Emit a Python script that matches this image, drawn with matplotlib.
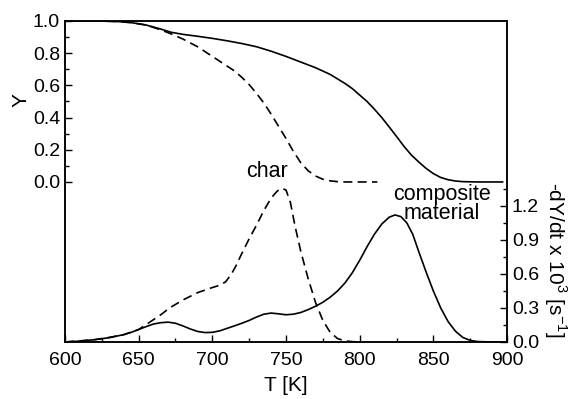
"""Mass loss Y and rate -dY/dt for char and composite material."""

import matplotlib

matplotlib.use("Agg")
import matplotlib.pyplot as plt
from matplotlib.ticker import FixedLocator

plt.rcParams["font.family"] = ["Liberation Sans", "DejaVu Sans"]
plt.rcParams["mathtext.fontset"] = "custom"
plt.rcParams["mathtext.rm"] = "Liberation Sans"

# Y, composite material (solid)
T_Y_COMP = [600, 620, 635, 645, 655, 665, 672, 680, 690, 700, 710, 720, 730,
            740, 750, 760, 770, 780, 790, 795, 800, 805, 810, 815, 820, 825,
            830, 835, 840, 845, 850, 855, 860, 865, 870, 880, 897]
Y_COMP = [1.0, 1.0, 0.997, 0.99, 0.975, 0.95, 0.93, 0.917, 0.905, 0.892, 0.877,
          0.86, 0.84, 0.812, 0.78, 0.745, 0.71, 0.668, 0.612, 0.58, 0.54, 0.5,
          0.452, 0.4, 0.342, 0.283, 0.222, 0.168, 0.125, 0.085, 0.052, 0.028,
          0.014, 0.006, 0.002, 0.0, 0.0]

# Y, char (dashed)
T_Y_CHAR = [600, 620, 635, 645, 655, 665, 672, 680, 690, 700, 710, 715, 720,
            725, 730, 735, 740, 745, 750, 755, 760, 765, 770, 775, 780, 785,
            790, 812]
Y_CHAR = [1.0, 1.0, 0.997, 0.99, 0.975, 0.945, 0.92, 0.888, 0.84, 0.78, 0.72,
          0.69, 0.65, 0.605, 0.55, 0.49, 0.42, 0.345, 0.27, 0.19, 0.12, 0.07,
          0.037, 0.017, 0.007, 0.002, 0.0, 0.0]

# -dY/dt x 10^3, composite material (solid)
T_R_COMP = [600, 610, 620, 630, 640, 645, 650, 655, 660, 665, 670, 675, 680,
            685, 690, 695, 700, 705, 710, 715, 720, 725, 730, 735, 740, 745,
            750, 755, 760, 765, 770, 775, 780, 785, 790, 795, 800, 805, 810,
            815, 820, 824, 828, 832, 836, 840, 845, 850, 855, 860, 865, 870,
            875, 880, 890, 897]
R_COMP = [0.0, 0.008, 0.02, 0.038, 0.065, 0.085, 0.11, 0.135, 0.158, 0.17,
          0.175, 0.165, 0.142, 0.115, 0.093, 0.083, 0.085, 0.098, 0.12, 0.142,
          0.165, 0.19, 0.22, 0.245, 0.255, 0.248, 0.24, 0.245, 0.26, 0.285,
          0.315, 0.35, 0.395, 0.45, 0.52, 0.61, 0.72, 0.84, 0.95, 1.04, 1.1,
          1.12, 1.105, 1.05, 0.95, 0.8, 0.62, 0.45, 0.3, 0.18, 0.095, 0.04,
          0.014, 0.004, 0.0, 0.0]

# -dY/dt x 10^3, char (dashed)
T_R_CHAR = [600, 620, 630, 640, 650, 657, 665, 671, 680, 690, 700, 705, 709,
            713, 716, 720, 725, 730, 735, 740, 744, 747, 750, 753, 756, 760,
            765, 770, 775, 780, 785, 790, 795, 800]
R_CHAR = [0.0, 0.02, 0.04, 0.065, 0.11, 0.17, 0.24, 0.30, 0.37, 0.435, 0.48,
          0.5, 0.53, 0.6, 0.67, 0.78, 0.91, 1.03, 1.16, 1.27, 1.33, 1.355, 1.34,
          1.23, 1.03, 0.8, 0.56, 0.35, 0.19, 0.085, 0.03, 0.01, 0.003, 0.0]

X_TICKS = [600, 650, 700, 750, 800, 850, 900]
Y_TICKS = [0.0, 0.2, 0.4, 0.6, 0.8, 1.0]
R_TICKS = [0.0, 0.3, 0.6, 0.9, 1.2]

FS = 14
LW = 1.2
DASH = (0, (5.4, 3.2))

fig = plt.figure(figsize=(5.72, 3.99), dpi=100)
ax = fig.add_axes([0.1136, 0.1429, 0.7728, 0.8045])
ax2 = ax.twinx()

ax.plot(T_Y_COMP, Y_COMP, color="black", lw=LW)
ax.plot(T_Y_CHAR, Y_CHAR, color="black", lw=LW, linestyle=DASH)
ax2.plot(T_R_COMP, R_COMP, color="black", lw=LW)
ax2.plot(T_R_CHAR, R_CHAR, color="black", lw=LW, linestyle=DASH)

ax.set_xlim(600, 900)
ax.set_ylim(-0.994, 1.0)
ax2.set_ylim(0, 2.83)

ax.set_xticks(X_TICKS)
ax.xaxis.set_minor_locator(FixedLocator([625, 675, 725, 775, 825, 875]))
ax.set_yticks(Y_TICKS)
ax.yaxis.set_minor_locator(FixedLocator([0.1, 0.3, 0.5, 0.7, 0.9]))
ax2.set_yticks(R_TICKS)
ax2.yaxis.set_minor_locator(FixedLocator([0.15, 0.45, 0.75, 1.05, 1.35]))
ax.set_yticklabels([f"{v:.1f}" for v in Y_TICKS])
ax2.set_yticklabels([f"{v:.1f}" for v in R_TICKS])

for a in (ax, ax2):
    a.tick_params(which="both", direction="in", labelsize=FS, width=1.0)
    a.tick_params(which="major", length=5)
    a.tick_params(which="minor", length=3)
    for s in a.spines.values():
        s.set_linewidth(1.1)
ax.tick_params(axis="x", top=False, pad=7)

ax.set_xlabel("T [K]", fontsize=15, labelpad=5)
ax.set_ylabel("Y", fontsize=15)
ax.yaxis.set_label_coords(-0.078, 0.754)
ax2.set_ylabel(r"-dY/dt x 10$^3$ [s$^{-1}$]", fontsize=15, rotation=270)
ax2.yaxis.set_label_coords(1.14, 0.255)

ax.text(737, 0.062, "char", fontsize=15.5, ha="center", va="center")
ax.text(856, -0.137, "composite\nmaterial", fontsize=15.5, ha="center",
        va="center", linespacing=0.92)

fig.savefig("out.png", dpi=100)
